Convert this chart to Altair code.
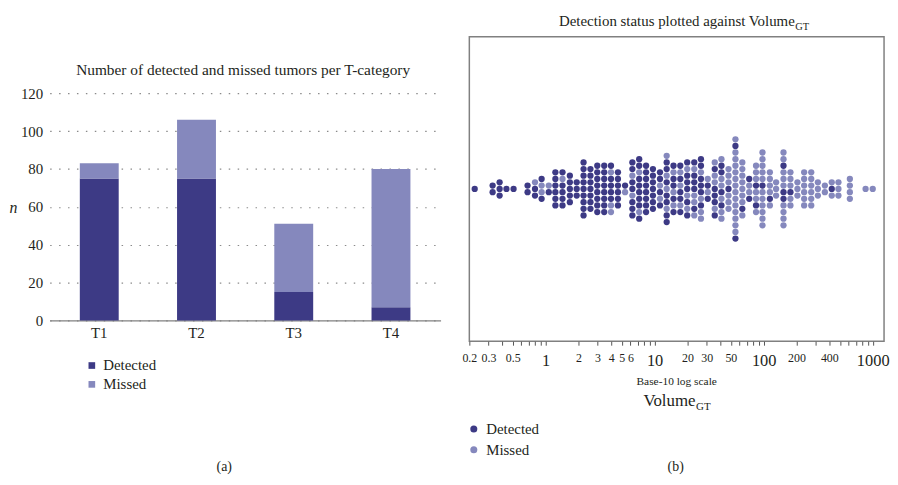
import altair as alt
import pandas as pd

DARK = "#3d3a85"
LIGHT = "#8588bd"
FONT = "Liberation Serif"
TXT = "#231f20"

# ---------- panel (a): stacked bars ----------
t_categories = ["T1", "T2", "T3", "T4"]
detected_counts = [75, 75, 15, 7]
missed_counts = [8, 31, 36, 73]
y_ticks = [0, 20, 40, 60, 80, 100, 120]

# ---------- panel (b): beeswarm, one entry per column (statuses listed top to bottom) ----------
col_volume = [0.224, 0.327, 0.379, 0.438, 0.509, 0.684, 0.80, 0.92, 1.07, 1.23,
              1.43, 1.67, 1.93, 2.23, 2.58, 2.98, 3.45, 3.98, 4.61, 5.36,
              6.25, 7.22, 8.35, 9.65, 11.2, 12.9, 14.9, 17.2, 19.9, 23.1,
              26.6, 30.7, 35.6, 41.0, 47.6, 55.1, 63.7, 73.7, 85.1, 97.5,
              114, 130, 152, 176, 204, 235, 273, 314, 364, 421,
              485, 617, 860, 1000]
col_status = ["D", "DD", "DDD", "D", "D", "DD", "MDD", "DMMD", "MD", "DDDDDD",
              "DMDDDD", "DDDDD", "DDD", "DDDDDDDDD", "DDDDDDD", "DDDDDDDD", "DDDDDDDD", "DMDDDDMM", "DDDDDD", "DM",
              "DDMDDMDDD", "DDMDDDDDMD", "DDDDDDDD", "DDDDDDD", "DDMDMD", "MDDMDMDDMDD", "DMDDMDMD", "DMDMDDMD", "DMDDDMDMD", "DMDDDMMDM",
              "DDMDDDMDMM", "MDMD", "MDMMDDDMD", "MDDMMDMDMM", "MMMDMMM", "MDMMMMMMMMMMMMMD", "MMMMMMMDM", "DMMD", "MMMDMMDM", "MMMMMDMMMMMM",
              "MMMMDM", "MMM", "MMDMMMDDMMMM", "MMMDMM", "MMM", "MMMMMM", "MMMMMM", "MMM", "MM", "MDM",
              "MMM", "MMMM", "M", "M"]
status_names = {"D": "Detected", "M": "Missed"}

tick_values = [0.2, 0.3, 0.4, 0.5, 0.6, 0.7, 0.8, 0.9,
               1, 2, 3, 4, 5, 6, 7, 8, 9,
               10, 20, 30, 40, 50, 60, 70, 80, 90,
               100, 200, 300, 400, 500, 600, 700, 800, 900, 1000]
labelled_ticks = [0.2, 0.3, 0.5, 1, 2, 3, 4, 5, 6, 10, 20, 30, 50, 100, 200, 400, 1000]
decade_ticks = [1, 10, 100, 1000]

# ---------- build tables ----------
bar_rows = []
for t, d, m in zip(t_categories, detected_counts, missed_counts):
    bar_rows.append({"category": t, "status": "Detected", "count": d, "stack_order": 0})
    bar_rows.append({"category": t, "status": "Missed", "count": m, "stack_order": 1})
bar_df = pd.DataFrame(bar_rows)

swarm_rows = []
for v, s in zip(col_volume, col_status):
    n = len(s)
    for i, ch in enumerate(s):
        swarm_rows.append({"volume": v, "offset": (n - 1) / 2 - i, "status": status_names[ch]})
swarm_df = pd.DataFrame(swarm_rows)


def text_layer(label, x, y, size, align="center", style="normal"):
    return alt.Chart(pd.DataFrame({"label": [label]})).mark_text(
        font=FONT, fontSize=size, color=TXT, align=align, baseline="alphabetic", fontStyle=style
    ).encode(x=alt.value(x), y=alt.value(y), text="label:N")


def anchor(x1, x2, y):
    return alt.Chart(pd.DataFrame({"a": [0]})).mark_rule(opacity=0, strokeWidth=1).encode(
        x=alt.value(x1), x2=alt.value(x2), y=alt.value(y))


color_scale = alt.Scale(domain=["Detected", "Missed"], range=[DARK, LIGHT])

# ---------- left panel (plot area top aligned with the right panel) ----------
LW, LH = 394, 286
Y_MAX = 120 * LH / 229   # 229 px between 0 and 120 in the reference
bars = alt.Chart(bar_df).mark_bar().encode(
    x=alt.X("category:N", sort=t_categories,
            scale=alt.Scale(paddingInner=0.6, paddingOuter=0.31),
            axis=alt.Axis(title=None, labelAngle=0, labelFont=FONT, labelFontSize=15,
                          labelColor=TXT, labelPadding=5, ticks=False, domainColor="#808080",
                          domainWidth=1.5, grid=False)),
    y=alt.Y("count:Q", stack="zero", scale=alt.Scale(domain=[0, Y_MAX], nice=False),
            axis=alt.Axis(values=y_ticks, title="n", titleAngle=0, titleFontStyle="italic",
                          titleFont=FONT, titleFontSize=16, titleFontWeight="normal",
                          titleColor=TXT, titleX=-37, titleY=172, titleAlign="center",
                          titleBaseline="middle", labelFont=FONT, labelFontSize=15,
                          labelColor=TXT, labelPadding=7, ticks=False, domain=False,
                          grid=True, gridDash=[1.5, 7.5], gridColor="#8a8a8a", gridWidth=1.2)),
    color=alt.Color("status:N", scale=color_scale,
                    legend=alt.Legend(orient="none", legendX=35, legendY=324, title=None,
                                      symbolType="square", symbolSize=45, labelFont=FONT,
                                      labelFontSize=15, labelColor=TXT, rowPadding=3,
                                      labelOffset=4, padding=0, symbolStrokeWidth=0)),
    order=alt.Order("stack_order:Q"),
)

left = alt.layer(
    bars,
    text_layer("Number of detected and missed tumors per T-category", 195, 39, 15.5),
    text_layer("(a)", 176, 438, 14),
    anchor(-42, 400, -25.5),
).properties(width=LW, height=LH, view=alt.ViewBackground(stroke=None))

# ---------- right panel ----------
RW, RH = 418, 307
label_test = "indexof(" + str(labelled_ticks) + ", datum.value) >= 0"
decade_test = "indexof(" + str(decade_ticks) + ", datum.value) >= 0"

swarm = alt.Chart(swarm_df).mark_circle(size=40, opacity=1).encode(
    x=alt.X("volume:Q",
            scale=alt.Scale(type="log", domain=[0.2, 1270], nice=False),
            axis=alt.Axis(values=tick_values, format="~g",
                          labelExpr=label_test + " ? datum.label : ''",
                          labelFontSize={"condition": {"test": decade_test, "value": 16.5}, "value": 12},
                          labelFont=FONT, labelColor=TXT, labelPadding=7, labelOverlap=False,
                          labelFlush=False, labelBaseline="top", tickSize=4, tickColor="#555",
                          domain=False, grid=False, title=None)),
    y=alt.Y("offset:Q", scale=alt.Scale(domain=[-23, 23], nice=False, zero=False), axis=None),
    color=alt.Color("status:N", scale=color_scale,
                    legend=alt.Legend(orient="none", legendX=-3, legendY=388, title=None,
                                      symbolType="circle", symbolSize=50, labelFont=FONT,
                                      labelFontSize=15, labelColor=TXT, rowPadding=5,
                                      labelOffset=5, padding=0, symbolStrokeWidth=0)),
)

right = alt.layer(
    swarm,
    text_layer("Detection status plotted against Volume", 328, -11, 15, align="right"),
    text_layer("GT", 328.5, -7, 10.5, align="left"),
    text_layer("Base-10 log scale", 209, 351, 11.5),
    text_layer("Volume", 228, 372, 17, align="right"),
    text_layer("GT", 228.5, 376, 11, align="left"),
    text_layer("(b)", 208, 438, 14),
    anchor(-10, 418, -25.5),
).properties(width=RW, height=RH,
             view=alt.ViewBackground(stroke="#808080", strokeWidth=1.5))

chart = alt.hconcat(left, right, spacing=12).resolve_scale(
    color="independent").resolve_legend(color="independent").properties(
    padding=0, background="white")

chart.save("out.html", embed_options={"renderer": "svg", "actions": False})
